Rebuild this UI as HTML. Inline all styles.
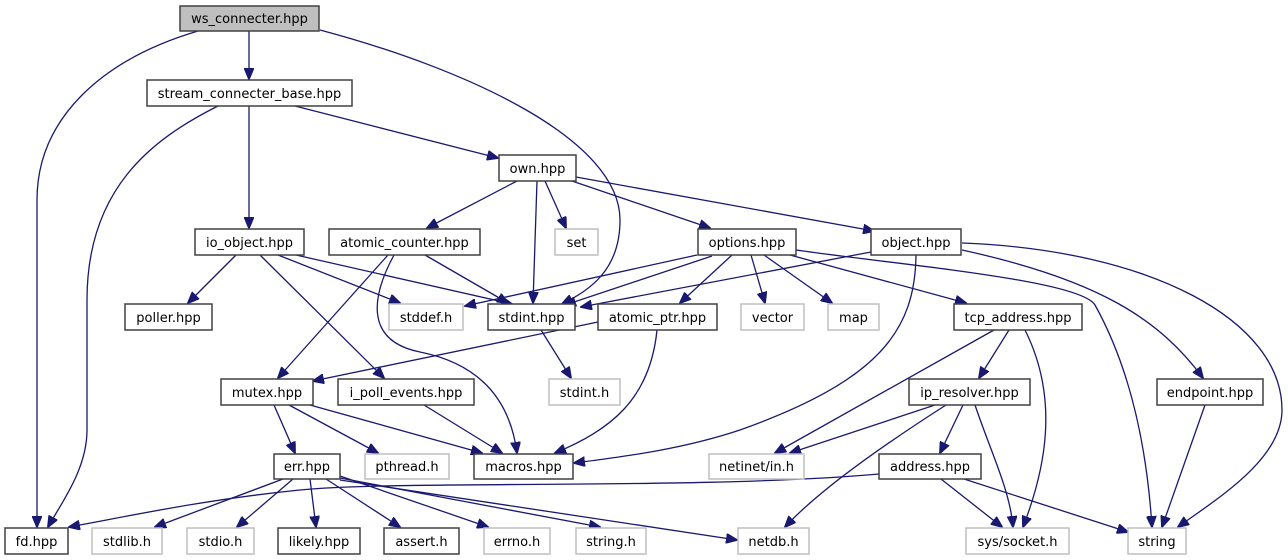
<!DOCTYPE html>
<html><head><meta charset="utf-8"><style>
html,body{margin:0;padding:0;background:#fff;}
svg{display:block;}
text{font-family:"DejaVu Sans","Liberation Sans",sans-serif;font-size:13px;fill:#000;}
.e{fill:none;stroke:#191970;stroke-width:1.3;}
.b{fill:#fff;stroke:#404040;stroke-width:1.5;}
.g{fill:#fff;stroke:#bfbfbf;stroke-width:1.5;}
</style></head><body>
<svg width="1288" height="560" viewBox="0 0 1288 560" xmlns="http://www.w3.org/2000/svg">
<defs>
<marker id="a" viewBox="0 0 12 10" refX="11" refY="5" markerWidth="12" markerHeight="10" markerUnits="userSpaceOnUse" orient="auto">
<path d="M0,0 L12,5 L0,10 z" fill="#191970" stroke="#191970"/>
</marker>
</defs>
<g marker-end="url(#a)">
<path class="e" d="M198,31 C100,60 37,120 37,200 L37,527"/>
<path class="e" d="M249,31 L249,79"/>
<path class="e" d="M320,30 C470,70 620,140 620,220 C620,270 590,290 562,304"/>
<path class="e" d="M218,106 C150,140 87,190 87,300 L87,430 C87,470 60,505 48,527"/>
<path class="e" d="M249,106 L249,228"/>
<path class="e" d="M295,106 L498,158"/>
<path class="e" d="M517,181 L427,228"/>
<path class="e" d="M537,181 L533,303"/>
<path class="e" d="M545,181 L566,228"/>
<path class="e" d="M572,181 L710,228"/>
<path class="e" d="M576,177 L874,231"/>
<path class="e" d="M236,255 L188,303"/>
<path class="e" d="M260,255 L384,378"/>
<path class="e" d="M278,255 L400,303"/>
<path class="e" d="M296,255 L512,304"/>
<path class="e" d="M388,255 L278,378"/>
<path class="e" d="M394,255 C375,290 360,340 420,352 C480,364 510,400 517,453"/>
<path class="e" d="M425,255 L508,303"/>
<path class="e" d="M697,255 L465,306"/>
<path class="e" d="M712,256 L565,305"/>
<path class="e" d="M871,252 L581,307"/>
<path class="e" d="M732,255 L680,303"/>
<path class="e" d="M751,255 L765,303"/>
<path class="e" d="M764,255 L832,303"/>
<path class="e" d="M790,255 L966,303"/>
<path class="e" d="M796,250 C900,265 1080,280 1095,305 C1120,350 1145,420 1152,527"/>
<path class="e" d="M916,255 C915,330 880,380 740,430 C680,450 620,457 574,463"/>
<path class="e" d="M962,250 C1100,280 1160,320 1203,378"/>
<path class="e" d="M962,243 C1150,250 1282,320 1282,410 C1282,460 1215,500 1178,527"/>
<path class="e" d="M994,330 L775,453"/>
<path class="e" d="M1009,330 L979,378"/>
<path class="e" d="M1025,330 C1060,400 1045,470 1023,527"/>
<path class="e" d="M598,322 L313,381"/>
<path class="e" d="M657,330 C650,400 610,430 555,453"/>
<path class="e" d="M541,330 L571,378"/>
<path class="e" d="M274,405 L295,453"/>
<path class="e" d="M289,405 L378,453"/>
<path class="e" d="M310,405 L482,453"/>
<path class="e" d="M424,405 L502,453"/>
<path class="e" d="M935,405 L790,453"/>
<path class="e" d="M946,405 C860,460 810,500 785,527"/>
<path class="e" d="M963,405 L940,453"/>
<path class="e" d="M975,405 C990,450 1010,490 1013,527"/>
<path class="e" d="M1205,405 L1162,527"/>
<path class="e" d="M879,474 C700,490 400,480 300,490 C200,500 120,518 69,527"/>
<path class="e" d="M941,479 L1002,527"/>
<path class="e" d="M964,479 L1128,532"/>
<path class="e" d="M283,479 L155,527"/>
<path class="e" d="M293,479 L237,527"/>
<path class="e" d="M310,479 L316,527"/>
<path class="e" d="M326,479 L400,527"/>
<path class="e" d="M340,476 L488,527"/>
<path class="e" d="M340,478 L600,527"/>
<path class="e" d="M340,480 L737,540"/>
</g>
<g>
<rect x="180" y="6" width="139" height="25" fill="#bfbfbf" stroke="#404040" stroke-width="1.5"/><text x="249.5" y="23" text-anchor="middle">ws_connecter.hpp</text>
<rect class="b" x="147" y="80" width="205" height="26"/><text x="249.5" y="98" text-anchor="middle">stream_connecter_base.hpp</text>
<rect class="b" x="499" y="155" width="77" height="26"/><text x="537.5" y="173" text-anchor="middle">own.hpp</text>
<rect class="b" x="195" y="229" width="109" height="26"/><text x="249.5" y="247" text-anchor="middle">io_object.hpp</text>
<rect class="b" x="329" y="229" width="151" height="26"/><text x="404.5" y="247" text-anchor="middle">atomic_counter.hpp</text>
<rect class="g" x="555" y="229" width="43" height="26"/><text x="576.5" y="247" text-anchor="middle">set</text>
<rect class="b" x="698" y="229" width="98" height="26"/><text x="747" y="247" text-anchor="middle">options.hpp</text>
<rect class="b" x="871" y="229" width="90" height="26"/><text x="916" y="247" text-anchor="middle">object.hpp</text>
<rect class="b" x="125" y="304" width="87" height="26"/><text x="168.5" y="322" text-anchor="middle">poller.hpp</text>
<rect class="g" x="389" y="304" width="74" height="26"/><text x="426" y="322" text-anchor="middle">stddef.h</text>
<rect class="b" x="488" y="304" width="87" height="26"/><text x="531.5" y="322" text-anchor="middle">stdint.hpp</text>
<rect class="b" x="598" y="304" width="119" height="26"/><text x="657.5" y="322" text-anchor="middle">atomic_ptr.hpp</text>
<rect class="g" x="741" y="304" width="63" height="26"/><text x="772.5" y="322" text-anchor="middle">vector</text>
<rect class="g" x="828" y="304" width="51" height="26"/><text x="853.5" y="322" text-anchor="middle">map</text>
<rect class="b" x="954" y="304" width="128" height="26"/><text x="1018" y="322" text-anchor="middle">tcp_address.hpp</text>
<rect class="b" x="221" y="379" width="92" height="26"/><text x="267" y="397" text-anchor="middle">mutex.hpp</text>
<rect class="b" x="338" y="379" width="136" height="26"/><text x="406" y="397" text-anchor="middle">i_poll_events.hpp</text>
<rect class="g" x="549" y="379" width="71" height="26"/><text x="584.5" y="397" text-anchor="middle">stdint.h</text>
<rect class="b" x="909" y="379" width="121" height="26"/><text x="969.5" y="397" text-anchor="middle">ip_resolver.hpp</text>
<rect class="b" x="1157" y="379" width="106" height="26"/><text x="1210" y="397" text-anchor="middle">endpoint.hpp</text>
<rect class="b" x="274" y="454" width="66" height="25"/><text x="307" y="471" text-anchor="middle">err.hpp</text>
<rect class="g" x="365" y="454" width="84" height="25"/><text x="407" y="471" text-anchor="middle">pthread.h</text>
<rect class="b" x="474" y="454" width="99" height="25"/><text x="523.5" y="471" text-anchor="middle">macros.hpp</text>
<rect class="g" x="709" y="454" width="95" height="25"/><text x="756.5" y="471" text-anchor="middle">netinet/in.h</text>
<rect class="b" x="879" y="454" width="102" height="25"/><text x="930" y="471" text-anchor="middle">address.hpp</text>
<rect class="b" x="5" y="528" width="63" height="26"/><text x="36.5" y="546" text-anchor="middle">fd.hpp</text>
<rect class="g" x="92" y="528" width="70" height="26"/><text x="127" y="546" text-anchor="middle">stdlib.h</text>
<rect class="g" x="187" y="528" width="67" height="26"/><text x="220.5" y="546" text-anchor="middle">stdio.h</text>
<rect class="b" x="278" y="528" width="82" height="26"/><text x="319" y="546" text-anchor="middle">likely.hpp</text>
<rect class="b" x="384" y="528" width="75" height="26"/><text x="421.5" y="546" text-anchor="middle">assert.h</text>
<rect class="g" x="484" y="528" width="66" height="26"/><text x="517" y="546" text-anchor="middle">errno.h</text>
<rect class="g" x="576" y="528" width="70" height="26"/><text x="611" y="546" text-anchor="middle">string.h</text>
<rect class="g" x="738" y="528" width="71" height="26"/><text x="773.5" y="546" text-anchor="middle">netdb.h</text>
<rect class="g" x="966" y="528" width="103" height="26"/><text x="1017.5" y="546" text-anchor="middle">sys/socket.h</text>
<rect class="g" x="1128" y="528" width="58" height="26"/><text x="1157" y="546" text-anchor="middle">string</text>
</g>
</svg>
</body></html>
